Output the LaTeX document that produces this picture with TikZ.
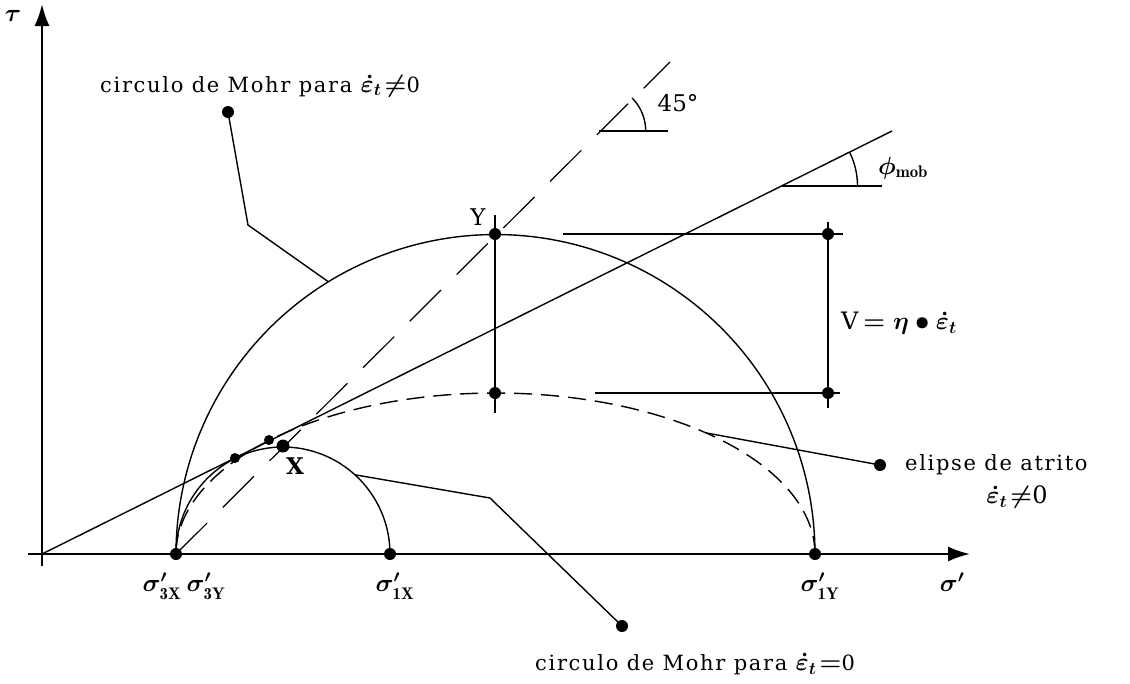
\documentclass[tikz,border=0pt]{standalone}
\usepackage{fontspec}
\usepackage{amsmath}
\newfontfamily\dvs{DejaVu Serif}
\usetikzlibrary{arrows.meta}
\begin{document}
\begin{tikzpicture}[x=1pt,y=-1pt,
  ln/.style={line width=1.4pt},
  ax/.style={line width=2.2pt,-{Latex[length=22pt,width=15pt]}},
  dotb/.style={circle,fill,inner sep=0pt,minimum size=12pt},
  dots/.style={circle,fill,inner sep=0pt,minimum size=10pt},
  dashell/.style={line width=1.4pt,dash pattern=on 18pt off 9pt},
  dash45/.style={line width=1.2pt,dash pattern=on 44pt off 22pt},
  mlbl/.style={inner sep=0pt,font=\fontsize{24}{26}\selectfont\boldmath},
  plbl/.style={inner sep=0pt,font=\dvs\fontsize{23}{26}\selectfont},
  tlbl/.style={inner sep=0pt,font=\dvs\fontsize{21}{24}\selectfont\addfontfeatures{LetterSpace=8}}]
\useasboundingbox (0,0) rectangle (1130,683);
% key points
\coordinate (O) at (42,554);
\coordinate (xs) at (28,554);
\coordinate (xe) at (970,554);
\coordinate (ys) at (42,566);
\coordinate (ye) at (42,4);
\node[dotb] (s3) at (176,554) {};
\node[dotb] (s1x) at (390,554) {};
\node[dotb] (s1y) at (815,554) {};
\node[dotb] (Y) at (495,234) {};
\node[dotb,minimum size=13pt] (Xd) at (283,446) {};
\node[dots] (t1) at (235,458) {};
\node[dots] (t2) at (269,440) {};
\node[dotb] (YL) at (495,393) {};
\node[dotb] (R1) at (828,234) {};
\node[dotb] (R2) at (828,393) {};
\node[dotb] (dTop) at (228,112) {};
\node[dotb] (dBot) at (622,626) {};
\node[dotb] (dEl) at (880,465) {};
\coordinate (fEnd) at (892,131);
\coordinate (t45) at (670,62);
% axes
\draw[ax] (xs) -- (xe);
\draw[ax] (ys) -- (ye);
% Mohr circles
\draw[ln] plot[domain=0:180,samples=120] ({495.5+319.5*cos(\x)},{554-319.5*sin(\x)});
\draw[ln] plot[domain=0:180,samples=80] ({283+107*cos(\x)},{554-107*sin(\x)});
% friction ellipse
\draw[dashell] plot[domain=0:180,samples=140] ({495.5+319.5*cos(\x)},{554-161*sin(\x)});
% failure line and 45 line
\draw[ln] (O) -- (fEnd);
\draw[dash45] (s3.center) -- (t45);
% 45 deg angle mark
\coordinate (a45) at (599,131);
\coordinate (h45) at (668,131);
\draw[ln] (a45) -- (h45);
\draw[ln] plot[domain=0:45,samples=20] ({599+46.7*cos(\x)},{131-46.7*sin(\x)});
% phi angle mark
\coordinate (aph) at (781.5,186);
\coordinate (hph) at (882,186);
\draw[ln] (aph) -- (hph);
\draw[ln] plot[domain=0:26.46,samples=20] ({781.5+76*cos(\x)},{186-76*sin(\x)});
% V construction
\coordinate (v1a) at (495,215); \coordinate (v1b) at (495,413);
\coordinate (h1a) at (563,234); \coordinate (h1b) at (843,234);
\coordinate (v2a) at (828,222); \coordinate (v2b) at (828,408);
\coordinate (h2a) at (595,393); \coordinate (h2b) at (840,393);
\draw[ln] (v1a) -- (v1b);
\draw[ln] (h1a) -- (h1b);
\draw[ln] (v2a) -- (v2b);
\draw[ln] (h2a) -- (h2b);
% leaders
\coordinate (cTop) at (328.4,281.8);
\coordinate (bTop) at (248,225);
\draw[ln] (dTop.center) -- (bTop) -- (cTop);
\coordinate (cBot) at (355,474.8);
\coordinate (bBot) at (490,498);
\draw[ln] (dBot.center) -- (bBot) -- (cBot);
\coordinate (eEl) at (706,432.9);
\draw[ln] (dEl.center) -- (eEl);
% labels
\node[mlbl] (ltau) at (13,16) {$\tau$};
\node[mlbl] (lsig) at (952,582) {$\sigma'$};
\node[mlbl] (l3x) at (162,586) {$\sigma'_{\mathrm{3X}}$};
\node[mlbl] (l3y) at (206,586) {$\sigma'_{\mathrm{3Y}}$};
\node[mlbl] (l1x) at (395,586) {$\sigma'_{\mathrm{1X}}$};
\node[mlbl] (l1y) at (820,586) {$\sigma'_{\mathrm{1Y}}$};
\node[plbl] (lY) at (478,217) {Y};
\node[plbl] (lX) at (295,466) {\bfseries X};
\node[plbl] (l45) at (678,103) {45°};
\node[mlbl] (lphi) at (903,168) {$\phi_{\mathrm{mob}}$};
\node[mlbl,anchor=west] (lV) at (841,323) {{\dvs V}$\,=\eta\bullet\dot{\varepsilon}_{t}$};
\node[tlbl,anchor=west] (lEl) at (905,465) {elipse de atrito};
\node[mlbl] (lEl2) at (1017,497) {$\dot{\varepsilon}_{t}\!\neq${\dvs 0}};
\node[tlbl,anchor=west] (lTop) at (100,86) {circulo de Mohr para {\fontsize{24}{26}\selectfont\boldmath$\dot{\varepsilon}_{t}\!\neq$}0};
\node[tlbl,anchor=west] (lBot) at (535,664) {circulo de Mohr para {\fontsize{24}{26}\selectfont\boldmath$\dot{\varepsilon}_{t}\!=$}0};
\end{tikzpicture}
\end{document}
